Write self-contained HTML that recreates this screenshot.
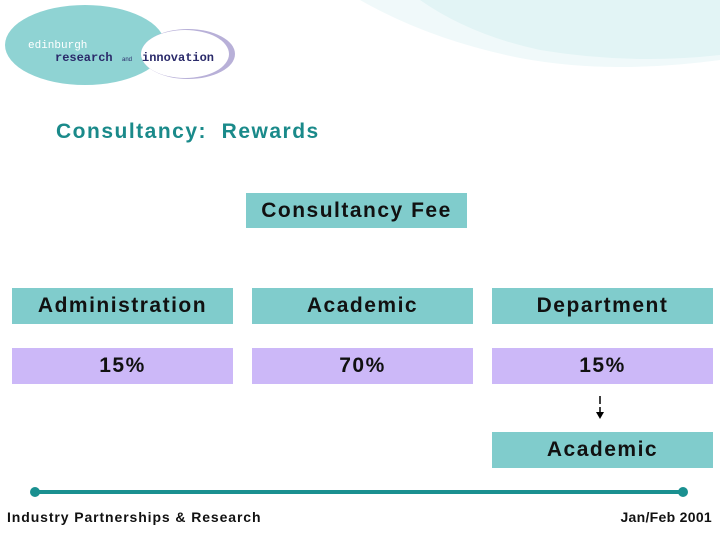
<!DOCTYPE html>
<html><head><meta charset="utf-8"><style>
body{margin:0;width:720px;height:540px;background:#fff;position:relative;overflow:hidden;font-family:"Liberation Sans",sans-serif}
.b{position:absolute;display:flex;align-items:center;justify-content:center;font-size:21px;font-weight:bold;letter-spacing:1.5px;color:#111}
.t{background:#80cccc}.l{background:#ccb8f8}
</style></head><body>
<svg style="position:absolute;left:0;top:0" width="720" height="100">
<path d="M360,0 Q430,40 520,58 Q610,75 720,60 L720,0 Z" fill="#f0f9fa"/>
<path d="M420,0 Q470,35 540,50 Q630,65 720,55 L720,0 Z" fill="#e2f4f5"/>
</svg>
<svg style="position:absolute;left:0;top:0" width="250" height="95">
<ellipse cx="85" cy="45" rx="80" ry="40" fill="#8fd3d3"/>
<ellipse cx="188" cy="54" rx="47" ry="25" fill="#b8b0d8"/>
<ellipse cx="185" cy="54" rx="44" ry="24" fill="#fff"/>
<text x="28" y="48" font-size="11" fill="#fff" font-family="Liberation Mono">edinburgh</text>
<text x="55" y="61" font-size="12" font-weight="bold" fill="#2a2a6a" font-family="Liberation Mono">research</text>
<text x="122" y="61" font-size="6" fill="#2a2a6a">and</text>
<text x="142" y="61" font-size="12" font-weight="bold" fill="#2a2a6a" font-family="Liberation Mono">innovation</text>
</svg>
<div style="position:absolute;left:56px;top:120px;font-size:21px;letter-spacing:1.5px;color:#1a8a8a;font-weight:bold">Consultancy:&nbsp; Rewards</div>
<div class="b t" style="left:246px;top:193px;width:221px;height:35px">Consultancy Fee</div>
<div class="b t" style="left:12px;top:288px;width:221px;height:36px">Administration</div>
<div class="b t" style="left:252px;top:288px;width:221px;height:36px">Academic</div>
<div class="b t" style="left:492px;top:288px;width:221px;height:36px">Department</div>
<div class="b l" style="left:12px;top:348px;width:221px;height:36px">15%</div>
<div class="b l" style="left:252px;top:348px;width:221px;height:36px">70%</div>
<div class="b l" style="left:492px;top:348px;width:221px;height:36px">15%</div>
<svg style="position:absolute;left:590px;top:394px" width="20" height="30">
<line x1="10" y1="2" x2="10" y2="10" stroke="#000" stroke-width="1.5"/>
<line x1="10" y1="13" x2="10" y2="19" stroke="#000" stroke-width="1.5"/>
<polygon points="6,18 14,18 10,25" fill="#000"/>
</svg>
<div class="b t" style="left:492px;top:432px;width:221px;height:36px">Academic</div>
<svg style="position:absolute;left:0;top:484px" width="720" height="16">
<line x1="35" y1="8" x2="683" y2="8" stroke="#1a9090" stroke-width="4"/>
<circle cx="35" cy="8" r="5" fill="#1a9090"/><circle cx="683" cy="8" r="5" fill="#1a9090"/>
</svg>
<div style="position:absolute;left:7px;top:509px;font-size:14px;font-weight:bold;letter-spacing:0.9px;color:#111">Industry Partnerships &amp; Research</div>
<div style="position:absolute;right:8px;top:509px;font-size:14px;font-weight:bold;letter-spacing:0.3px;color:#111">Jan/Feb 2001</div>
</body></html>
